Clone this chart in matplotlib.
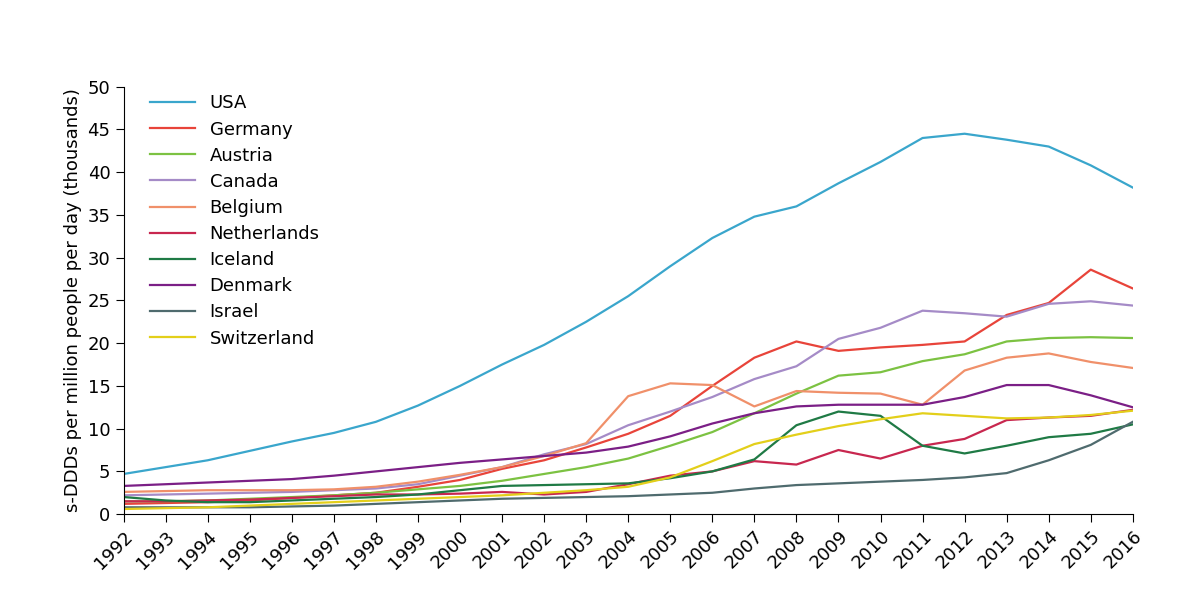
import matplotlib
matplotlib.use("Agg")
import matplotlib.pyplot as plt

years = list(range(1992, 2017))
usa = [4.7,5.5,6.3,7.4,8.5,9.5,10.8,12.7,15,17.5,19.8,22.5,25.5,29,32.3,34.8,36,38.7,41.2,44,44.5,43.8,43,40.8,38.2]
germany = [1.2,1.3,1.4,1.6,1.9,2.2,2.5,3.2,4,5.3,6.3,7.8,9.4,11.5,15,18.3,20.2,19.1,19.5,19.8,20.2,23.3,24.7,28.6,26.4]
austria = [1.5,1.5,1.6,1.8,2,2.2,2.5,2.9,3.3,3.9,4.7,5.5,6.5,8,9.6,11.8,14.1,16.2,16.6,17.9,18.7,20.2,20.6,20.7,20.6]
canada = [2.2,2.3,2.4,2.5,2.6,2.8,3,3.5,4.5,5.5,7,8.2,10.4,12,13.7,15.8,17.3,20.5,21.8,23.8,23.5,23.1,24.6,24.9,24.4]
belgium = [2.6,2.7,2.8,2.8,2.8,2.9,3.2,3.8,4.6,5.5,6.8,8.3,13.8,15.3,15.1,12.6,14.4,14.2,14.1,12.8,16.8,18.3,18.8,17.8,17.1]
netherlands = [1.5,1.5,1.6,1.7,1.9,2.1,2.3,2.3,2.4,2.6,2.3,2.6,3.5,4.5,5,6.2,5.8,7.5,6.5,8,8.8,11,11.3,11.5,12.2]
iceland = [2,1.6,1.4,1.4,1.6,1.8,2,2.3,2.8,3.3,3.4,3.5,3.6,4.2,5,6.4,10.4,12,11.5,8,7.1,8,9,9.4,10.5]
denmark = [3.3,3.5,3.7,3.9,4.1,4.5,5,5.5,6,6.4,6.8,7.2,7.9,9.1,10.6,11.8,12.6,12.8,12.8,12.8,13.7,15.1,15.1,13.9,12.5]
israel = [0.8,0.8,0.8,0.8,0.9,1,1.2,1.4,1.6,1.8,1.9,2,2.1,2.3,2.5,3,3.4,3.6,3.8,4,4.3,4.8,6.3,8.1,10.8]
switzerland = [0.6,0.7,0.8,1,1.2,1.4,1.6,1.8,2,2.2,2.5,2.8,3.2,4.3,6.2,8.2,9.3,10.3,11.1,11.8,11.5,11.2,11.3,11.6,12.1]

series = [("USA", usa, "#3aa6cc"), ("Germany", germany, "#e8443a"),
          ("Austria", austria, "#7cc242"), ("Canada", canada, "#a58bc7"),
          ("Belgium", belgium, "#f0906a"), ("Netherlands", netherlands, "#c8274f"),
          ("Iceland", iceland, "#1f7a45"), ("Denmark", denmark, "#7b1f86"),
          ("Israel", israel, "#4f6b6e"), ("Switzerland", switzerland, "#e3cf1a")]

fig = plt.figure(figsize=(12, 6.15), dpi=100)
ax = fig.add_axes([0.103, 0.164, 0.841, 0.695])
for name, vals, c in series:
    ax.plot(years, vals, color=c, lw=1.6, label=name)
ax.set_xlim(1992, 2016)
ax.set_ylim(0, 50)
ax.set_yticks(range(0, 51, 5))
ax.set_xticks(years)
ax.set_xticklabels([str(y) for y in years], rotation=45, ha="right", rotation_mode="anchor")
ax.tick_params(labelsize=13, direction="out", length=6)
ax.spines["top"].set_visible(False)
ax.spines["right"].set_visible(False)
ax.set_ylabel("s-DDDs per million people per day (thousands)", fontsize=13)
ax.legend(loc="upper left", frameon=False, fontsize=13, handlelength=2.5,
          bbox_to_anchor=(0.01, 1.02), labelspacing=0.45)
fig.savefig("out.png")
